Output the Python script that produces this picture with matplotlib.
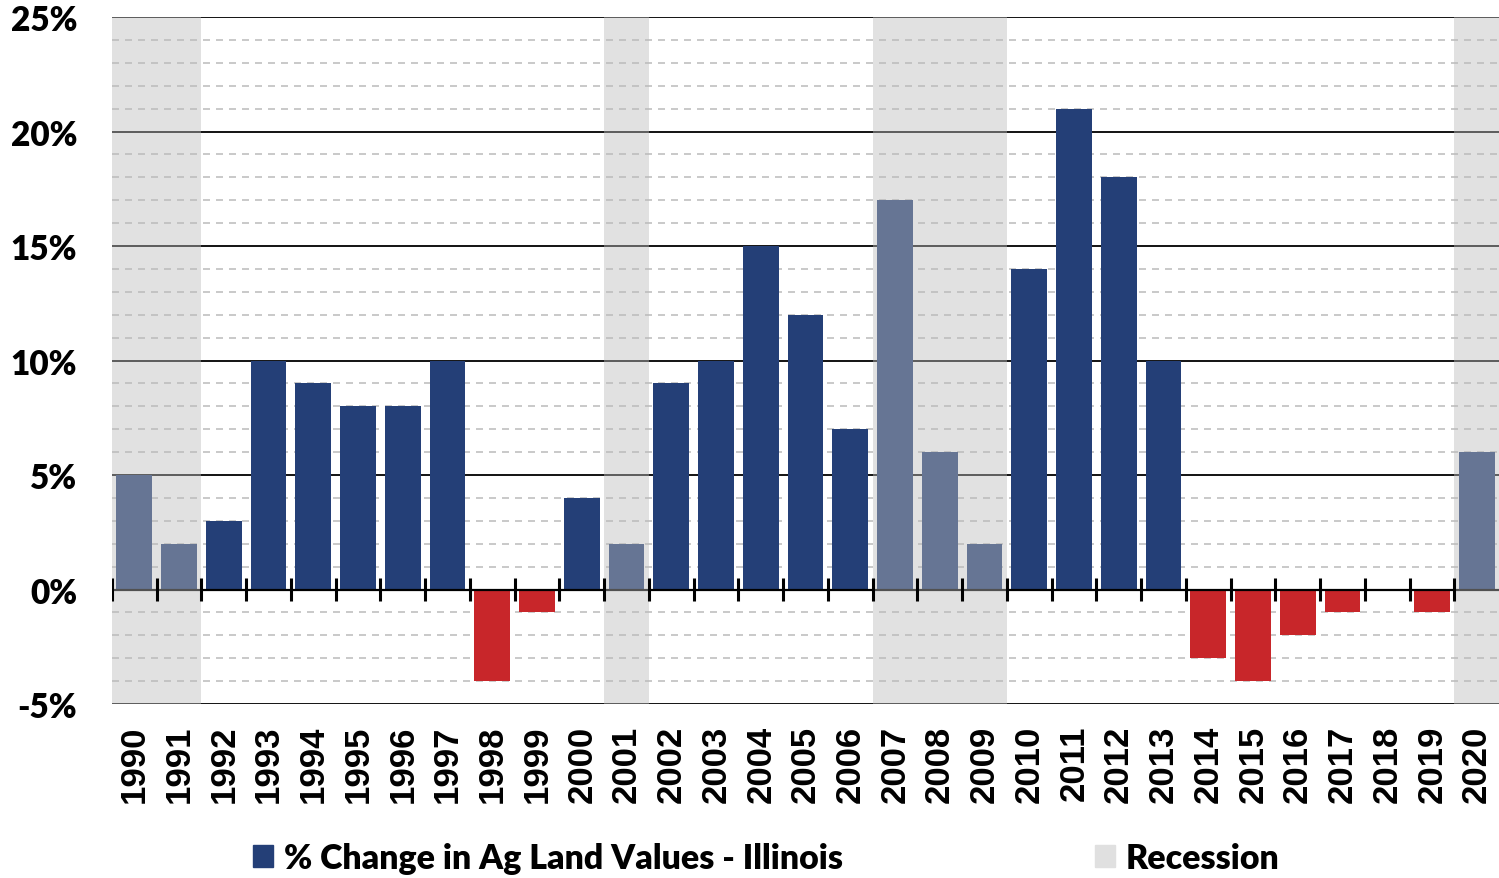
import matplotlib
matplotlib.use("Agg")
import matplotlib.pyplot as plt
from matplotlib.patches import Patch
import numpy as np

# data
years = list(range(1990, 2021))
pct_change = [5, 2, 3, 10, 9, 8, 8, 10, -4, -1, 4, 2, 9, 10, 15, 12, 7,
              17, 6, 2, 14, 21, 18, 10, -3, -4, -2, -1, 0, -1, 6]
recession_years = [1990, 1991, 2001, 2007, 2008, 2009, 2020]
y_ticks = [-5, 0, 5, 10, 15, 20, 25]
y_tick_labels = ["-5%", "0%", "5%", "10%", "15%", "20%", "25%"]

navy = "#243F77"
red = "#C8262A"

fig = plt.figure(figsize=(14.99, 8.79), dpi=100)
ax = fig.add_axes([112 / 1499, 1 - 705 / 879, 1 - 112 / 1499, (705 - 18) / 879])

x = np.arange(len(years))

# gridlines: solid every 5%, dashed every 1%
for v in range(-5, 26):
    if v % 5 == 0:
        if v != 0:
            ax.axhline(v, color="black", lw=1.3, zorder=1)
    else:
        ax.axhline(v, color="#C0C0C0", lw=1.2, ls=(0, (4.2, 3.6)), zorder=1)

bar_colors = [navy if v >= 0 else red for v in pct_change]
ax.bar(x, pct_change, width=0.8, color=bar_colors, zorder=2)

# zero line
ax.axhline(0, color="black", lw=1.6, zorder=2.5)

# recession shading (semi-transparent, lightens bars underneath)
rec_idx = [years.index(y) for y in recession_years]
ax.bar(rec_idx, [30] * len(rec_idx), bottom=-5, width=1.0,
       color=(188 / 255, 188 / 255, 188 / 255), alpha=0.434, lw=0, zorder=3)

# category boundary ticks on the zero line
ax.vlines(np.arange(len(years)) - 0.5, -0.5, 0.5, color="black", lw=2.2, zorder=4)

ax.set_xlim(-0.5, len(years) - 0.5)
ax.set_ylim(-5, 25)
for s in ax.spines.values():
    s.set_visible(False)

ax.set_yticks(y_ticks)
ax.set_yticklabels(y_tick_labels, fontfamily="Lato", fontweight="heavy", fontsize=24)
ax.set_xticks(x)
ax.set_xticklabels([str(y) for y in years], rotation=90, fontfamily="Liberation Sans",
                   fontweight="bold", fontsize=25)
ax.tick_params(axis="both", length=0)
ax.tick_params(axis="x", pad=15)
ax.tick_params(axis="y", pad=25)

leg_font = dict(family="Lato", weight="heavy", size=24.4)
leg_kw = dict(loc="center left", frameon=False, prop=leg_font, handlelength=0.6,
              handleheight=0.6, handletextpad=0.3, borderpad=0, borderaxespad=0)
fig.legend(handles=[Patch(color=navy, label="% Change in Ag Land Values - Illinois")],
           bbox_to_anchor=(253 / 1499, 1 - 859 / 879), **leg_kw)
fig.legend(handles=[Patch(color="#E0E0E0", label="Recession")],
           bbox_to_anchor=(1095 / 1499, 1 - 859 / 879), **leg_kw)

fig.savefig("out.png", dpi=100)
